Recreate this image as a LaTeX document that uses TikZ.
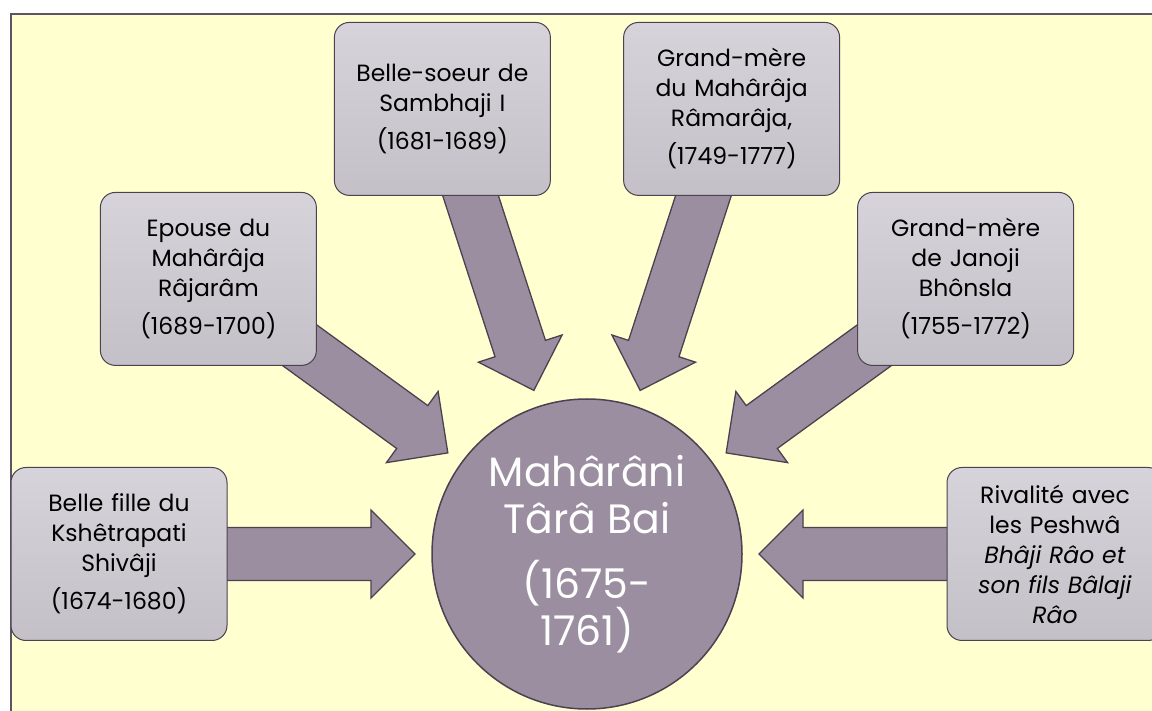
\documentclass[tikz,border=0pt]{standalone}
\usepackage{fontspec}
\setmainfont{Poppins}
\usetikzlibrary{calc}
\definecolor{fondjaune}{RGB}{255,255,208}
\definecolor{mauve}{RGB}{155,142,160}
\definecolor{contour}{RGB}{74,66,80}
\definecolor{grisclair}{RGB}{215,211,218}
\definecolor{grisfonce}{RGB}{196,192,200}
\pgfdeclarelayer{fond}
\pgfdeclarelayer{fleches}
\pgfsetlayers{fond,fleches,main}
\tikzset{
  cadre/.style={rectangle, rounded corners=15pt, draw=contour, line width=1pt,
    top color=grisclair, bottom color=grisfonce, minimum width=216pt,
    minimum height=173pt, text width=206pt, align=center, inner sep=0pt,
    font=\fontsize{23.5}{30}\selectfont},
  fleche/.style={fill=mauve, draw=contour, line width=1.3pt, line join=miter},
}

\begin{document}
\begin{tikzpicture}[x=1pt, y=1pt]
  \useasboundingbox (0,0) rectangle (1152,710);
  \clip (0,0) rectangle (1152,710);
  \begin{pgfonlayer}{fond}
    \draw[fill=fondjaune, draw=contour!90, line width=2pt] (11,-20) rectangle (1180,696);
  \end{pgfonlayer}
  % personnage central
  \node[circle, minimum size=310pt, inner sep=0pt, fill=mauve, draw=contour,
    line width=1.5pt, text=white, align=center,
    font=\fontsize{41}{47}\selectfont] (tara) at (587,156)
    {Mahârâni\\Târâ Bai\\[18pt](1675-\\1761)};
  % les six rôles, tous les 36 degrés
  \foreach \ang/\n/\txt in {
      180/shivaji/{Belle fille du\\Kshêtrapati\\Shivâji\\[8pt](1674-1680)},
      144/rajaram/{Epouse du\\Mahârâja\\Râjarâm\\[8pt](1689-1700)},
      108/sambhaji/{Belle-soeur de\\Sambhaji I\\[8pt](1681-1689)},
      72/ramaraja/{Grand-mère\\du Mahârâja\\Râmarâja,\\[8pt](1749-1777)},
      36/janoji/{Grand-mère\\de Janoji\\Bhônsla\\[8pt](1755-1772)},
      0/peshwa/{Rivalité avec\\les Peshwâ\\\textit{Bhâji Râo et}\\\textit{son fils Bâlaji}\\\textit{Râo}}}
  {
    \node[cadre] (\n) at ($(tara.center)+(\ang:468)$) {\txt};
    \begin{pgfonlayer}{fleches}
      \coordinate (t) at ($(tara.center)!172pt!(\n.center)$);
      \coordinate (h) at ($(tara.center)!216pt!(\n.center)$);
      \draw[fleche] (t) -- ($(h)!44pt!90:(t)$) -- ($(h)!26.5pt!90:(t)$)
        -- ($(\n.center)!26.5pt!90:(t)$) -- ($(\n.center)!26.5pt!-90:(t)$)
        -- ($(h)!26.5pt!-90:(t)$) -- ($(h)!44pt!-90:(t)$) -- cycle;
    \end{pgfonlayer}
  }
\end{tikzpicture}
\end{document}
